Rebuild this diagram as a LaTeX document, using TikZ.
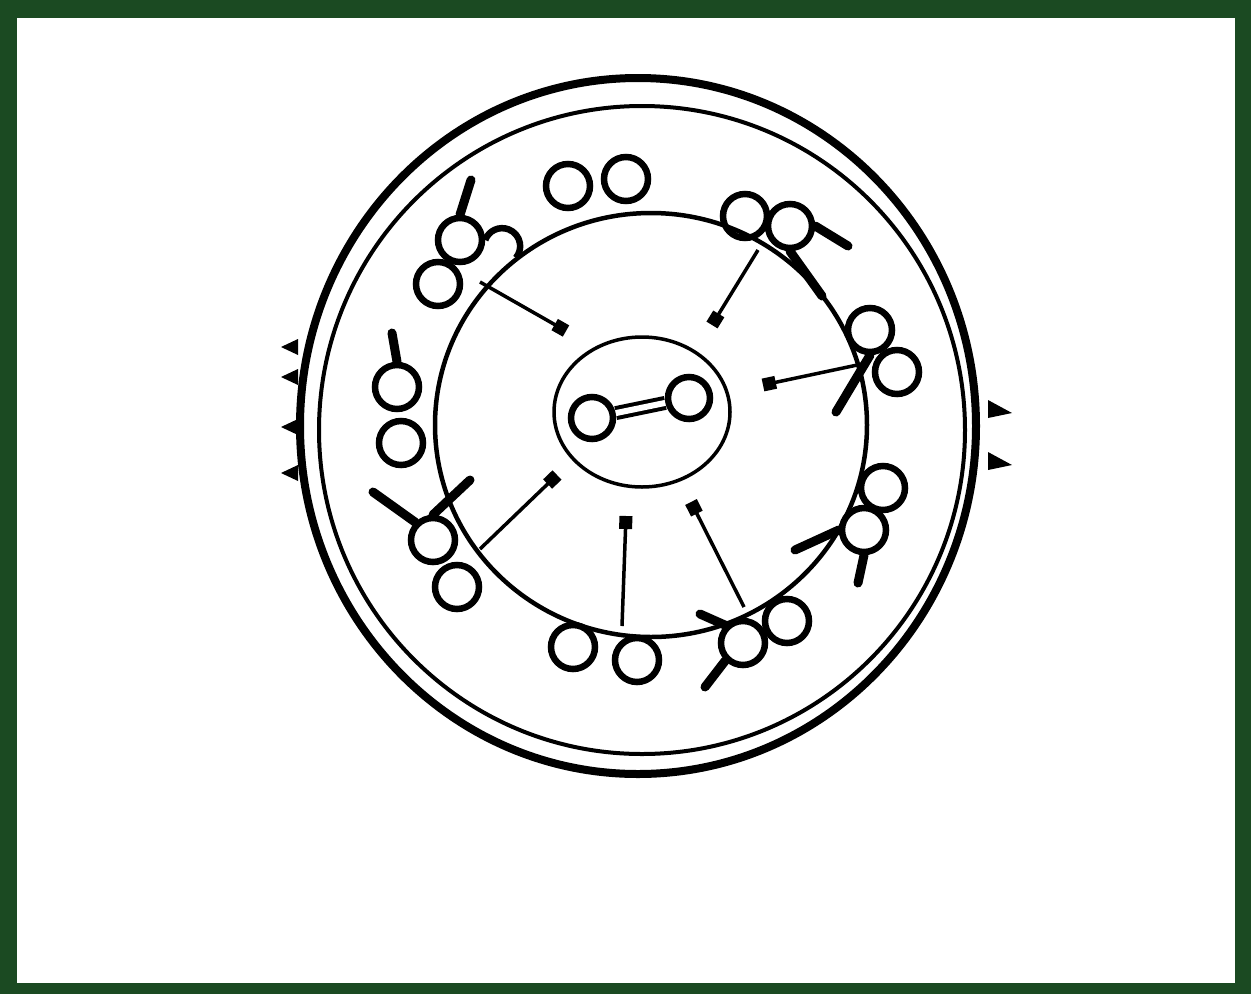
\documentclass[tikz,border=0pt]{standalone}
\usetikzlibrary{arrows.meta}
\definecolor{framegreen}{HTML}{1B4A22}
\tikzset{
  atom/.style={draw, circle, line width=6.5pt, minimum size=44pt, inner sep=0pt},
  bond/.style={line width=9pt, line cap=round},
  link/.style={line width=3.5pt, -{Square[length=13pt,width=13pt]}},
  spike/.style={fill, line join=round}
}
\begin{document}
\begin{tikzpicture}[x=1pt,y=-1pt]
  % frame
  \fill[framegreen] (0,0) rectangle (1251,994);
  \fill[white] (17,18) rectangle (1235,983);
  % cell walls
  \draw[line width=8pt] (638,426) ellipse [x radius=338pt, y radius=348pt];
  \draw[line width=4pt] (642,430) ellipse [x radius=323pt, y radius=324pt];
  \foreach \y in {347,377,427,473} \fill[spike] (298,\y-8) -- (281,\y) -- (298,\y+8) -- cycle;
  \foreach \y in {410,462} \fill[spike] (988,\y-10) -- (1012,\y+3) -- (988,\y+8) -- cycle;
  % ring and nucleus
  \draw[line width=4.5pt] (651,425) ellipse [x radius=216pt, y radius=212pt];
  \draw[line width=3.5pt] (642,412) ellipse [x radius=88pt, y radius=75pt];
  \node[atom, minimum size=42pt] (c1) at (592,418) {};
  \node[atom, minimum size=42pt] (c2) at (689,398) {};
  \draw[line width=4pt, double, double distance=6pt] (c1) -- (c2);
  % molecules on the ring
  \foreach \n/\x/\y in {t1/568/186, t2/626/179, ul1/460/240, ul2/438/284,
      l1/397/387, l2/401/443, ll1/433/540, ll2/457/587, b1/573/647, b2/637/660,
      br1/743/643, br2/787/621, ur1/745/216, ur2/790/226, r1/870/330, r2/897/372,
      rl1/883/488, rl2/864/530}
    \node[atom] (\n) at (\x,\y) {};
  \draw[line width=6.5pt] (ul1.east) arc[start angle=160, end angle=-40, radius=18pt];
  \draw[bond] (ul1.north) -- (471,180);
  \draw[bond] (l1.north) -- (392,333);
  \draw[bond] (ll1.north west) -- (373,492);
  \draw[bond] (ll1.north) -- (470,480);
  \draw[bond] (br1.north west) -- (700,614);
  \draw[bond] (br1.south west) -- (705,687);
  \draw[bond] (ur2.east) -- (848,246);
  \draw[bond] (ur2.south) -- (822,296);
  \draw[bond] (r1.south) -- (836,412);
  \draw[bond] (rl2.west) -- (795,550);
  \draw[bond] (rl2.south) -- (858,583);
  % transport to the nucleus
  \foreach \s/\e/\sx/\sy/\ex/\ey in {a1/z1/480/282/566/331, a2/z2/758/250/712/325,
      a3/z3/862/364/763/385, a4/z4/480/549/557/475, a5/z5/622/626/626/516,
      a6/z6/744/607/691/502} {
    \coordinate (\s) at (\sx,\sy);
    \coordinate (\e) at (\ex,\ey);
    \draw[link] (\s) -- (\e);
  }
\end{tikzpicture}
\end{document}
